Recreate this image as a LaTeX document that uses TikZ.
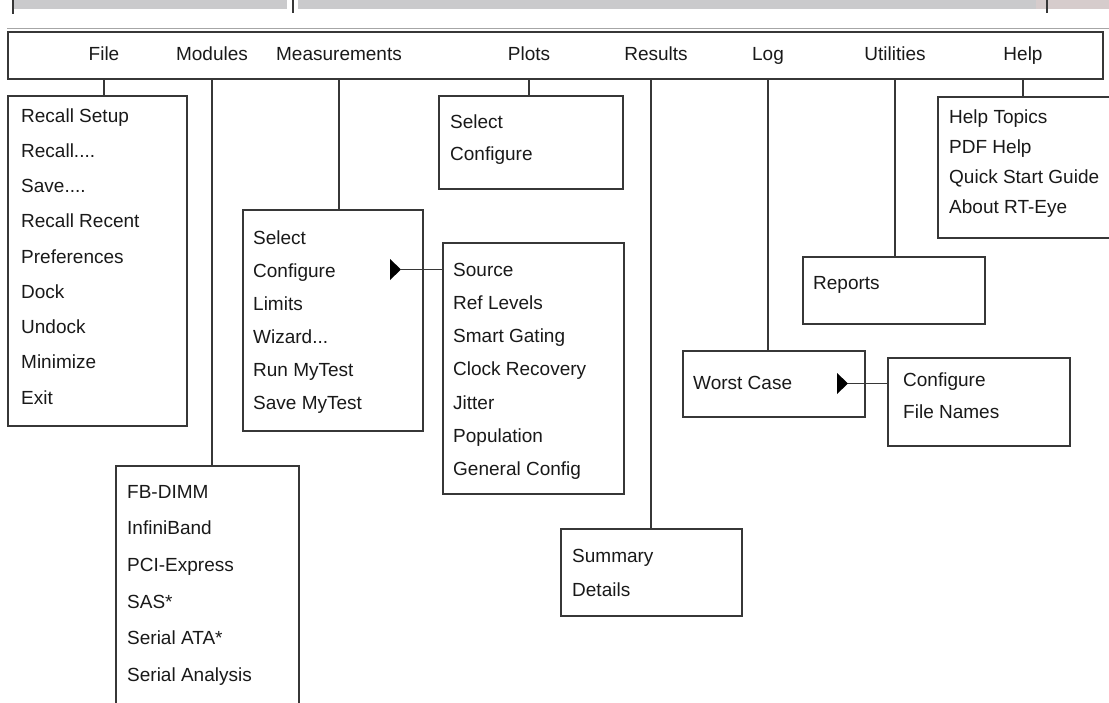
\documentclass[tikz,border=0pt]{standalone}
\usepackage{fontspec}
\setmainfont{Liberation Sans}
\usetikzlibrary{positioning}
\definecolor{BarGray}{RGB}{202,202,204}
\definecolor{TabPink}{RGB}{214,204,204}
\definecolor{LineGray}{RGB}{55,55,55}
\definecolor{TextGray}{RGB}{25,25,25}

\begin{document}
\begin{tikzpicture}[x=1pt,y=-1pt,
  box style/.style={
    draw=LineGray,
    line width=1.7pt,
    rectangle,
    anchor=north west,
    inner sep=0pt,
  },
  item style/.style={
    text=TextGray,
    anchor=west,
    inner sep=0pt,
    text height=15pt,
    text depth=3pt,
    font=\fontsize{19}{22}\selectfont,
  },
  head style/.style={
    text=TextGray,
    inner sep=0pt,
    text height=15pt,
    text depth=3pt,
    font=\fontsize{19}{22}\selectfont,
  },
  link style/.style={
    draw=LineGray,
    line width=1.5pt,
  }
]
\useasboundingbox (0,0) rectangle (1109,702);
\clip (0,0) rectangle (1109,702);

% window title strip, cut off at the top
\fill[BarGray] (12,0) rectangle (287,9);
\fill[BarGray] (298,0) rectangle (1036,9);
\fill[TabPink] (1036,0) rectangle (1109,9);
\draw[LineGray, line width=1.6pt] (13,0) -- (13,14);
\draw[LineGray, line width=1.6pt] (293,0) -- (293,13);
\draw[LineGray, line width=1.2pt] (1047,0) -- (1047,13);
\draw[gray!70, line width=1pt] (7,28) -- (1109,28);

% menu bar
\node[box style, minimum width=1095pt, minimum height=47pt] (bar) at (7,31) {};
\node[head style] (lfile)  at (104,54) {File};
\node[head style] (lmod)   at (212,54) {Modules};
\node[head style] (lmeas)  at (339,54) {Measurements};
\node[head style] (lplots) at (529,54) {Plots};
\node[head style] (lres)   at (656,54) {Results};
\node[head style] (llog)   at (768,54) {Log};
\node[head style] (lutil)  at (895,54) {Utilities};
\node[head style] (lhelp)  at (1023,54) {Help};

% drop-down boxes
\node[box style, minimum width=179pt, minimum height=330pt] (fbox) at (7,95) {};
\node[box style, minimum width=183pt, minimum height=260pt] (mbox) at (115,465) {};
\node[box style, minimum width=180pt, minimum height=221pt] (measbox) at (242,209) {};
\node[box style, minimum width=181pt, minimum height=251pt] (srcbox) at (442,242) {};
\node[box style, minimum width=184pt, minimum height=93pt] (pbox) at (438,95) {};
\node[box style, minimum width=181pt, minimum height=87pt] (sumbox) at (560,528) {};
\node[box style, minimum width=182pt, minimum height=67pt] (repbox) at (802,256) {};
\node[box style, minimum width=182pt, minimum height=66pt] (wcbox) at (682,350) {};
\node[box style, minimum width=182pt, minimum height=88pt] (cfgbox) at (887,357) {};
\node[box style, minimum width=190pt, minimum height=141pt] (hbox) at (937,96) {};

% entries
\foreach \t [count=\i from 0] in {Recall Setup, Recall.{}.{}.{}., Save.{}.{}.{}., Recall Recent,
  Preferences, Dock, Undock, Minimize, Exit}
  \node[item style] (file-\i) at (21,116+35.25*\i) {\t};
\foreach \t [count=\i from 0] in {FB-DIMM, InfiniBand, PCI-Express, SAS*,
  Serial ATA*, Serial Analysis}
  \node[item style] (mod-\i) at (127,492+36.7*\i) {\t};
\foreach \t [count=\i from 0] in {Select, Configure, Limits, Wizard.{}.{}., Run MyTest, Save MyTest}
  \node[item style] (meas-\i) at (253,238+33*\i) {\t};
\foreach \t [count=\i from 0] in {Source, Ref Levels, Smart Gating, Clock Recovery,
  Jitter, Population, General Config}
  \node[item style] (src-\i) at (453,270+33.3*\i) {\t};
\foreach \t [count=\i from 0] in {Select, Configure}
  \node[item style] (plot-\i) at (450,122+32*\i) {\t};
\foreach \t [count=\i from 0] in {Help Topics, PDF Help, Quick Start Guide, About RT-Eye}
  \node[item style] (help-\i) at (949,117+30*\i) {\t};
\foreach \t [count=\i from 0] in {Configure, File Names}
  \node[item style] (cfg-\i) at (903,380+32*\i) {\t};
\foreach \t [count=\i from 0] in {Summary, Details}
  \node[item style] (sum-\i) at (572,556+34*\i) {\t};
\node[item style] (rep-0) at (813,283) {Reports};
\node[item style] (wc-0) at (693,383) {Worst Case};

% submenu pointers
\fill[black] (390,259) -- (401,269.5) -- (390,280) -- cycle;
\coordinate (meastip) at (401,269.5);
\fill[black] (837,373) -- (848,383.5) -- (837,394) -- cycle;
\coordinate (wctip) at (848,383.5);

% connectors
\draw[link style] (bar.south -| lfile) -- (fbox.north -| lfile);
\draw[link style] (bar.south -| lmod) -- (mbox.north -| lmod);
\draw[link style] (bar.south -| lmeas) -- (measbox.north -| lmeas);
\draw[link style] (bar.south -| lplots) -- (pbox.north -| lplots);
\draw[link style] (bar.south -| 651,0) -- (sumbox.north -| 651,0);
\draw[link style] (bar.south -| llog) -- (wcbox.north -| llog);
\draw[link style] (bar.south -| lutil) -- (repbox.north -| lutil);
\draw[link style] (bar.south -| lhelp) -- (hbox.north -| lhelp);
\draw[link style] (meastip) -- (srcbox.west |- meastip);
\draw[link style] (wctip) -- (cfgbox.west |- wctip);

\end{tikzpicture}
\end{document}
